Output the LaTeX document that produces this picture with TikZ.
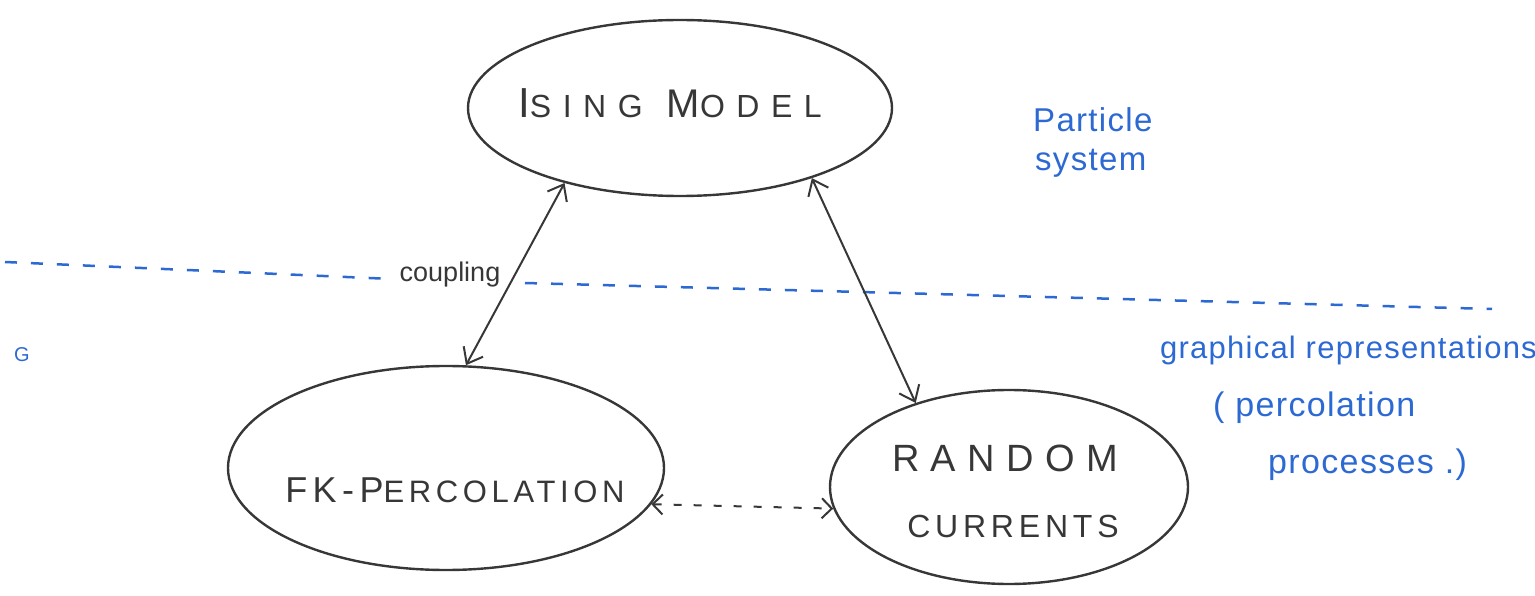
\documentclass[tikz,border=0pt]{standalone}
\usepackage{fontspec}
\setmainfont{Liberation Sans}
\newfontfamily\wideS[LetterSpace=36]{Liberation Sans}
\newfontfamily\wideR[LetterSpace=30]{Liberation Sans}
\newfontfamily\midS[LetterSpace=15]{Liberation Sans}
\newfontfamily\narS[LetterSpace=4]{Liberation Sans}
\usetikzlibrary{arrows.meta,shapes.geometric}
\definecolor{pen}{RGB}{55,55,55}
\definecolor{ink}{RGB}{45,105,210}
\newcommand\capA[2]{{\fontsize{#1}{#1}\selectfont #2}}
\begin{document}
\begin{tikzpicture}[x=1pt,y=-1pt,
  blob/.style={draw=pen,line width=2.4pt,ellipse,inner sep=0pt},
  lbl/.style={text=pen,inner sep=0pt},
  note/.style={text=ink,inner sep=0pt,anchor=west,font=\narS},
  link/.style={draw=pen,line width=2pt,{Straight Barb[length=14pt,width=22pt]}-{Straight Barb[length=14pt,width=22pt]}},
  dlink/.style={draw=pen,line width=2pt,dash pattern=on 8pt off 12pt,{Straight Barb[length=10pt,width=20pt]}-{Straight Barb[length=10pt,width=20pt]}},
  sep/.style={draw=ink,line width=2.5pt,dash pattern=on 12pt off 14pt}]
\useasboundingbox (0,0) rectangle (1535,596);
% ellipses
\node[blob,minimum width=424pt,minimum height=176pt] (ising) at (680,108) {};
\node[blob,minimum width=436pt,minimum height=204pt] (fk) at (446,468) {};
\node[blob,minimum width=358pt,minimum height=194pt] (rc) at (1009,487) {};
% labels
\node[lbl] (isingt) at (670,103) {\wideS\capA{42pt}{I}\capA{32pt}{SING}\hspace{24pt}\capA{40pt}{M}\capA{32pt}{ODEL}};
\node[lbl] (fkt) at (455,490) {\midS\capA{36pt}{FK-P}\capA{31pt}{ERCOLATION}};
\node[lbl] (rct1) at (1005,458) {\wideR\capA{38pt}{RANDOM}};
\node[lbl] (rct2) at (1013,526) {\midS\capA{32pt}{CURRENTS}};
% separator
\coordinate (dl1) at (5,262);
\coordinate (dl2) at (392,279);
\coordinate (dr1) at (525,283);
\coordinate (dr2) at (1492,309);
\draw[sep] (dl1) -- (dl2);
\draw[sep] (dr1) -- (dr2);
\node[lbl] (coup) at (450,275) {\capA{27pt}{coupling}};
% connectors
\draw[link] (ising.-147) -- (fk.79);
\draw[link] (ising.-28) -- (rc.138);
\draw[dlink] (fk.-10) -- (rc.187);
% blue notes
\node[note] (g) at (14,355) {\capA{20pt}{G}};
\node[note] (p1) at (1033,120) {\capA{33pt}{Particle}};
\node[note] (p2) at (1035,163) {\capA{33pt}{system}};
\node[note] (q1) at (1160,350) {\capA{31pt}{graphical representations}};
\node[note] (q2) at (1213,408) {\capA{34pt}{( percolation}};
\node[note] (q3) at (1268,465) {\capA{34pt}{processes .)}};
\end{tikzpicture}
\end{document}
